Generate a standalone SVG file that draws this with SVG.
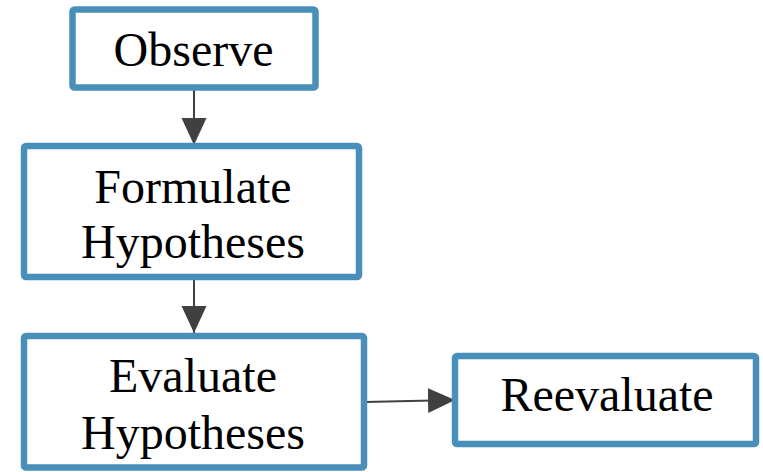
<svg xmlns="http://www.w3.org/2000/svg" width="763" height="472" viewBox="0 0 763 472">
<style>
.box{fill:#fff;stroke:#4890ba;stroke-width:6.5}
.lbl{font-family:"Liberation Serif",serif;font-size:48px;fill:#000;text-anchor:middle}
.edge{stroke:#404040;stroke-width:2;fill:none}
</style>
<defs>
<marker id="ah" markerUnits="userSpaceOnUse" markerWidth="28" markerHeight="26" refX="27" refY="12.5" orient="auto">
<path d="M0,0 L27,12.5 L0,25 Z" fill="#404040"/>
</marker>
</defs>
<rect width="763" height="472" fill="#fff"/>
<g id="connectors">
<line class="edge" x1="194" y1="90" x2="194" y2="145" marker-end="url(#ah)"/>
<line class="edge" x1="194" y1="280" x2="194" y2="333" marker-end="url(#ah)"/>
<line class="edge" x1="365" y1="402" x2="455" y2="400" marker-end="url(#ah)"/>
</g>
<g id="observe">
<rect class="box" x="72.5" y="9.5" width="243" height="78" rx="2"/>
<text class="lbl" x="193.5" y="65.5">Observe</text>
</g>
<g id="formulate">
<rect class="box" x="24" y="146" width="335" height="131" rx="2"/>
<text class="lbl" x="193" y="202.5">Formulate</text>
<text class="lbl" x="193" y="258">Hypotheses</text>
</g>
<g id="evaluate">
<rect class="box" x="24" y="336" width="340" height="131.5" rx="2"/>
<text class="lbl" x="193" y="391.5">Evaluate</text>
<text class="lbl" x="193" y="449">Hypotheses</text>
</g>
<g id="reevaluate">
<rect class="box" x="455" y="356" width="301" height="88" rx="2"/>
<text class="lbl" x="607" y="410.5">Reevaluate</text>
</g>
</svg>
